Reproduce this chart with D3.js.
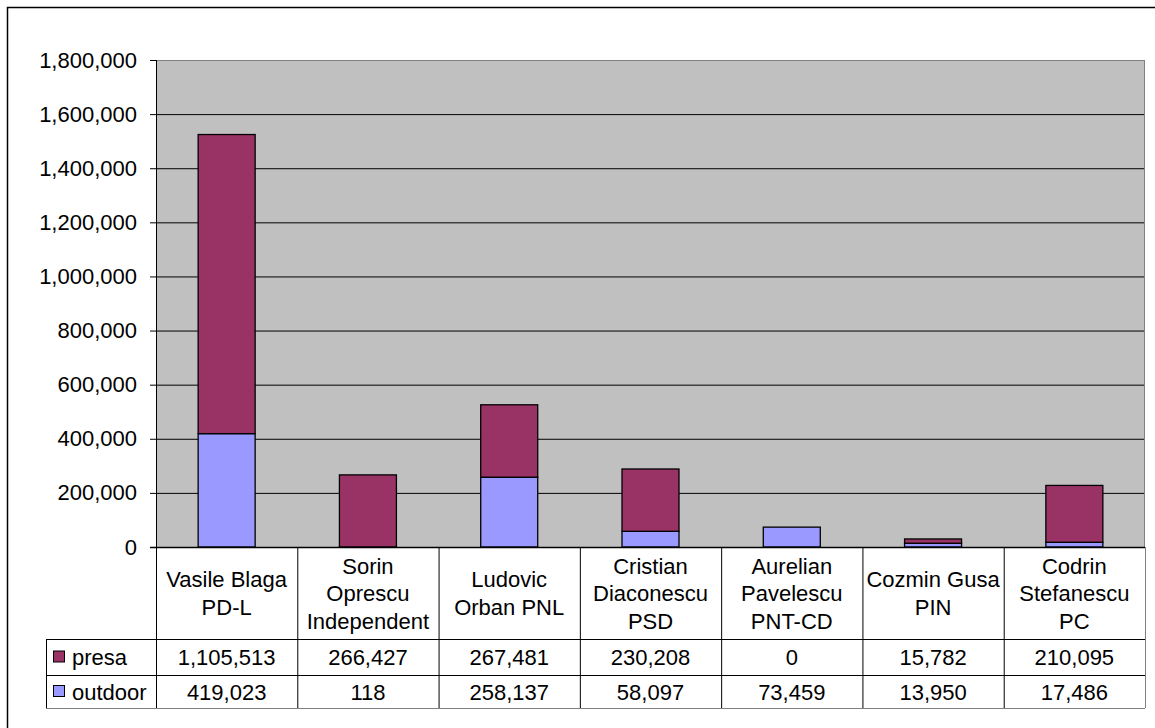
<!DOCTYPE html>
<html>
<head>
<meta charset="utf-8">
<script src="https://cdn.jsdelivr.net/npm/d3@7"></script>
<style>
  body { margin: 0; background: #fff; }
  text { font-family: "Liberation Sans", Arial, sans-serif; fill: #000; }
</style>
</head>
<body>
<svg width="1155" height="728"></svg>
<script>
// data
var categories = [
  ["Vasile Blaga", "PD-L"],
  ["Sorin", "Oprescu", "Independent"],
  ["Ludovic", "Orban PNL"],
  ["Cristian", "Diaconescu", "PSD"],
  ["Aurelian", "Pavelescu", "PNT-CD"],
  ["Cozmin Gusa", "PIN"],
  ["Codrin", "Stefanescu", "PC"]
];
var seriesNames = ["outdoor", "presa"];
var outdoor = [419023, 118, 258137, 58097, 73459, 13950, 17486];
var presa = [1105513, 266427, 267481, 230208, 0, 15782, 210095];
var yTicks = [0, 200000, 400000, 600000, 800000, 1000000, 1200000, 1400000, 1600000, 1800000];

var colors = { presa: "#993366", outdoor: "#9999FF" };
var fontSize = 22;

var svg = d3.select("svg");

// outer chart frame
svg.append("rect")
  .attr("x", 7.5).attr("y", 7.5)
  .attr("width", 1160).attr("height", 740)
  .attr("fill", "none").attr("stroke", "#000").attr("stroke-width", 1.5);

var plotLeft = 156, plotRight = 1145, plotTop = 60, plotBottom = 547;
var width = plotRight - plotLeft, height = plotBottom - plotTop;

var keys = categories.map(function(c, i) { return i; });
var x = d3.scaleBand().domain(keys).range([0, width]).paddingInner(0).paddingOuter(0);
var y = d3.scaleLinear().domain([0, 1800000]).range([height, 0]);

var g = svg.append("g").attr("transform", "translate(" + plotLeft + "," + plotTop + ")");

g.append("rect")
  .attr("width", width).attr("height", height)
  .attr("fill", "#C0C0C0");

// gridlines
g.selectAll(".grid")
  .data(yTicks.slice(1))
  .enter().append("line")
  .attr("x1", 0).attr("x2", width)
  .attr("y1", function(d) { return y(d) + 0.5; })
  .attr("y2", function(d) { return y(d) + 0.5; })
  .attr("stroke", function(d, i) { return i == yTicks.length - 2 ? "#808080" : "#000"; })
  .attr("stroke-width", 1);

// right border of plot
g.append("line")
  .attr("x1", width - 0.5).attr("x2", width - 0.5)
  .attr("y1", 0).attr("y2", height)
  .attr("stroke", "#808080");

// stacked bars
var rows = keys.map(function(i) { return { i: i, outdoor: outdoor[i], presa: presa[i] }; });
var stacked = d3.stack().keys(seriesNames)(rows);
var barW = 57;

g.selectAll(".layer")
  .data(stacked)
  .enter().append("g")
  .attr("fill", function(d) { return colors[d.key]; })
  .selectAll("rect")
  .data(function(d) { return d.filter(function(p) { return p[1] > p[0]; }); })
  .enter().append("rect")
  .attr("x", function(d) { return x(d.data.i) + x.bandwidth() / 2 - barW / 2; })
  .attr("y", function(d) { return y(d[1]); })
  .attr("width", barW)
  .attr("height", function(d) { return y(d[0]) - y(d[1]); })
  .attr("stroke", "#000")
  .attr("stroke-width", 1.3);

// y axis
var yAxis = g.append("g")
  .call(d3.axisLeft(y).tickValues(yTicks).tickSize(6).tickPadding(13).tickFormat(d3.format(",")));
yAxis.select(".domain").attr("stroke", "#000").attr("d", "M0.5,0V" + (height + 0.5));
yAxis.selectAll("text").attr("font-size", fontSize).attr("font-family", "Liberation Sans, Arial, sans-serif").attr("fill", "#000");
yAxis.selectAll(".tick line").attr("stroke", "#000");

// x axis baseline
g.append("line")
  .attr("x1", -6).attr("x2", width)
  .attr("y1", height + 0.5).attr("y2", height + 0.5)
  .attr("stroke", "#000").attr("stroke-width", 1.3);

// data table
var catBottom = 639, presaBottom = 675, outBottom = 708;
var legendLeft = 46;
var tbl = svg.append("g");

// vertical lines between columns
tbl.selectAll(".vline")
  .data(keys.concat([keys.length]))
  .enter().append("line")
  .attr("x1", function(d) { return plotLeft + (d < keys.length ? x(d) : width) + 0.5; })
  .attr("x2", function(d) { return plotLeft + (d < keys.length ? x(d) : width) + 0.5; })
  .attr("y1", plotBottom)
  .attr("y2", outBottom)
  .attr("stroke", function(d) { return d == keys.length ? "#808080" : "#000"; });

tbl.append("line")
  .attr("x1", legendLeft + 0.5).attr("x2", legendLeft + 0.5)
  .attr("y1", catBottom).attr("y2", outBottom).attr("stroke", "#000");

[catBottom, presaBottom, outBottom].forEach(function(yy) {
  tbl.append("line")
    .attr("x1", legendLeft).attr("x2", plotRight)
    .attr("y1", yy + 0.5).attr("y2", yy + 0.5)
    .attr("stroke", yy == outBottom ? "#808080" : "#000");
});

// category labels
var catMid = (plotBottom + catBottom) / 2;
categories.forEach(function(lines, i) {
  var t = tbl.append("text")
    .attr("text-anchor", "middle")
    .attr("font-size", fontSize)
    .attr("x", plotLeft + x(i) + x.bandwidth() / 2);
  lines.forEach(function(line, j) {
    t.append("tspan")
      .attr("x", plotLeft + x(i) + x.bandwidth() / 2)
      .attr("y", catMid + (j - (lines.length - 1) / 2) * 27.5 + 8)
      .text(line);
  });
});

// value rows
var tableRows = [
  { name: "presa", values: presa, top: catBottom, bot: presaBottom },
  { name: "outdoor", values: outdoor, top: presaBottom, bot: outBottom }
];
tableRows.forEach(function(r) {
  var mid = (r.top + r.bot) / 2;
  tbl.append("rect")
    .attr("x", 53.5).attr("y", mid - 6)
    .attr("width", 11).attr("height", 11)
    .attr("fill", colors[r.name]).attr("stroke", "#000");
  tbl.append("text")
    .attr("x", 72).attr("y", mid + 8)
    .attr("font-size", fontSize)
    .text(r.name);
  r.values.forEach(function(v, i) {
    tbl.append("text")
      .attr("text-anchor", "middle")
      .attr("x", plotLeft + x(i) + x.bandwidth() / 2)
      .attr("y", mid + 8)
      .attr("font-size", fontSize)
      .text(d3.format(",")(v));
  });
});
</script>
</body>
</html>
